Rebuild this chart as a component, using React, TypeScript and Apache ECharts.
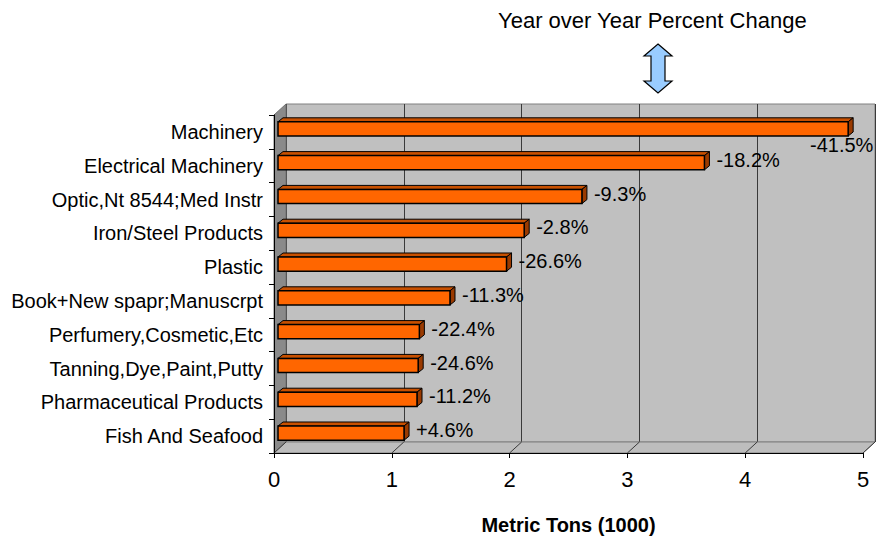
import React, { useEffect, useRef } from "react";
import * as echarts from "echarts";

const categories = [
  "Machinery",
  "Electrical Machinery",
  "Optic,Nt 8544;Med Instr",
  "Iron/Steel Products",
  "Plastic",
  "Book+New spapr;Manuscrpt",
  "Perfumery,Cosmetic,Etc",
  "Tanning,Dye,Paint,Putty",
  "Pharmaceutical Products",
  "Fish And Seafood",
];
const metricTons = [4.84, 3.62, 2.58, 2.09, 1.94, 1.46, 1.2, 1.19, 1.18, 1.07];
const pctChange = ["-41.5%", "-18.2%", "-9.3%", "-2.8%", "-26.6%", "-11.3%", "-22.4%", "-24.6%", "-11.2%", "+4.6%"];
const xTicks = [0, 1, 2, 3, 4, 5];

const FONT = "'Liberation Sans', Arial, sans-serif";
const W = 876;
const H = 541;
const FRONT = { left: 274, top: 115, width: 589, height: 338 };
const DEPTH = { dx: 12, dy: -11 };
const BAR_SHIFT = { dx: 4, dy: -3 };

export default function App() {
  const ref = useRef<HTMLDivElement>(null);
  useEffect(() => {
    if (!ref.current) return;
    const chart = echarts.init(ref.current, null, { renderer: "svg" });
    const xMin = xTicks[0];
    const xMax = xTicks[xTicks.length - 1];

    const option: any = {
      animation: false,
      backgroundColor: "#ffffff",
      textStyle: { fontFamily: FONT },
      title: {
        text: "Year over Year Percent Change",
        left: 498,
        top: 9,
        padding: 0,
        textStyle: { fontFamily: FONT, fontSize: 22, fontWeight: "normal", color: "#000" },
      },
      grid: [
        {
          left: FRONT.left + DEPTH.dx,
          top: FRONT.top + DEPTH.dy,
          width: FRONT.width,
          height: FRONT.height,
          show: true,
          backgroundColor: "#C0C0C0",
          borderColor: "#808080",
          borderWidth: 1,
          z: 0,
        },
        { left: FRONT.left, top: FRONT.top, width: FRONT.width, height: FRONT.height, z: 4 },
        {
          left: FRONT.left + BAR_SHIFT.dx,
          top: FRONT.top + BAR_SHIFT.dy,
          width: FRONT.width,
          height: FRONT.height,
          z: 3,
        },
      ],
      xAxis: [
        {
          gridIndex: 0, type: "value", min: xMin, max: xMax, interval: 1,
          axisLine: { show: false }, axisTick: { show: false }, axisLabel: { show: false },
          splitLine: { show: true, lineStyle: { color: "#3a3a3a", width: 1 } },
        },
        {
          gridIndex: 1, type: "value", min: xMin, max: xMax, interval: 1, z: 4,
          axisLine: { show: true, lineStyle: { color: "#000", width: 1 } },
          axisTick: { show: true, length: 5, lineStyle: { color: "#000" } },
          axisLabel: { fontFamily: FONT, fontSize: 22, color: "#000", margin: 15 },
          splitLine: { show: false },
          name: "Metric Tons (1000)",
          nameLocation: "middle",
          nameGap: 62,
          nameTextStyle: { fontFamily: FONT, fontSize: 20, fontWeight: "bold", color: "#000" },
        },
        {
          gridIndex: 2, type: "value", min: xMin, max: xMax, show: false,
        },
      ],
      yAxis: [
        { gridIndex: 0, type: "category", data: categories, inverse: true, show: false },
        {
          gridIndex: 1, type: "category", data: categories, inverse: true, z: 4,
          axisLine: { show: true, lineStyle: { color: "#000", width: 1 } },
          axisTick: { show: true, length: 5, lineStyle: { color: "#000" } },
          axisLabel: { fontFamily: FONT, fontSize: 20, color: "#000", margin: 11 },
        },
        { gridIndex: 2, type: "category", data: categories, inverse: true, show: false },
      ],
      series: [
        {
          type: "custom",
          xAxisIndex: 2,
          yAxisIndex: 2,
          z: 3,
          encode: { x: 0, y: 1 },
          data: metricTons.map((v, i) => [v, i, pctChange[i]]),
          renderItem: (params: any, api: any) => {
            const v = api.value(0);
            const idx = api.value(1);
            const start = api.coord([0, idx]);
            const end = api.coord([v, idx]);
            const bh = api.size([0, 1])[1] * 0.42;
            const x0 = start[0];
            const x1 = end[0];
            const y0 = end[1] - bh / 2;
            const dx = 5;
            const dy = -4;
            const label = pctChange[params.dataIndex];
            let lx = x1 + dx + 7;
            let ly = end[1] - 3;
            const estW = label.length * 11;
            if (lx + estW > W - 4) {
              lx = W - 4 - 62;
              ly = end[1] + 16;
            }
            return {
              type: "group",
              children: [
                {
                  type: "polygon",
                  shape: { points: [[x0, y0], [x0 + dx, y0 + dy], [x1 + dx, y0 + dy], [x1, y0]] },
                  style: { fill: "#C85000", stroke: "#000", lineWidth: 1 },
                },
                {
                  type: "polygon",
                  shape: { points: [[x1, y0], [x1 + dx, y0 + dy], [x1 + dx, y0 + dy + bh], [x1, y0 + bh]] },
                  style: { fill: "#9A3A00", stroke: "#000", lineWidth: 1 },
                },
                {
                  type: "rect",
                  shape: { x: x0, y: y0, width: x1 - x0, height: bh },
                  style: { fill: "#FF6600", stroke: "#000", lineWidth: 1.5 },
                },
                {
                  type: "text",
                  style: {
                    text: label, x: lx, y: ly, fill: "#000",
                    font: `20px ${FONT}`, textAlign: "left", textVerticalAlign: "middle",
                  },
                },
              ],
            };
          },
        },
      ],
    };
    chart.setOption(option);

    const fp = (v: number) => chart.convertToPixel({ xAxisIndex: 1 }, v) as number;
    const front0 = fp(xMin);
    const front5 = fp(xMax);
    const bottomY = FRONT.top + FRONT.height;
    const topY = FRONT.top;
    const g: any[] = [];
    g.push({
      type: "polygon", z: 2,
      shape: { points: [[front0, topY], [front0 + DEPTH.dx, topY + DEPTH.dy], [front0 + DEPTH.dx, bottomY + DEPTH.dy], [front0, bottomY]] },
      style: { fill: "#8a8a8a", stroke: "#707070", lineWidth: 1 },
    });
    g.push({
      type: "polygon", z: 2,
      shape: { points: [[front0, bottomY], [front0 + DEPTH.dx, bottomY + DEPTH.dy], [front5 + DEPTH.dx, bottomY + DEPTH.dy], [front5, bottomY]] },
      style: { fill: "#BDBDBD", stroke: "#808080", lineWidth: 1 },
    });
    xTicks.forEach((t) => {
      const px = fp(t);
      g.push({
        type: "line", z: 2,
        shape: { x1: px, y1: bottomY, x2: px + DEPTH.dx, y2: bottomY + DEPTH.dy },
        style: { stroke: "#3a3a3a", lineWidth: 1 },
      });
    });
    g.push({
      type: "polygon", z: 5,
      shape: {
        points: [[658, 44], [672, 56], [665, 56], [665, 81], [672, 81], [658, 93], [644, 81], [651, 81], [651, 56], [644, 56]],
      },
      style: { fill: "#99CCFF", stroke: "#000", lineWidth: 1.2 },
    });
    chart.setOption({ graphic: g });

    return () => chart.dispose();
  }, []);
  return (
    <div
      ref={ref}
      style={{ position: "absolute", left: 0, top: 0, width: W, height: H }}
    />
  );
}
